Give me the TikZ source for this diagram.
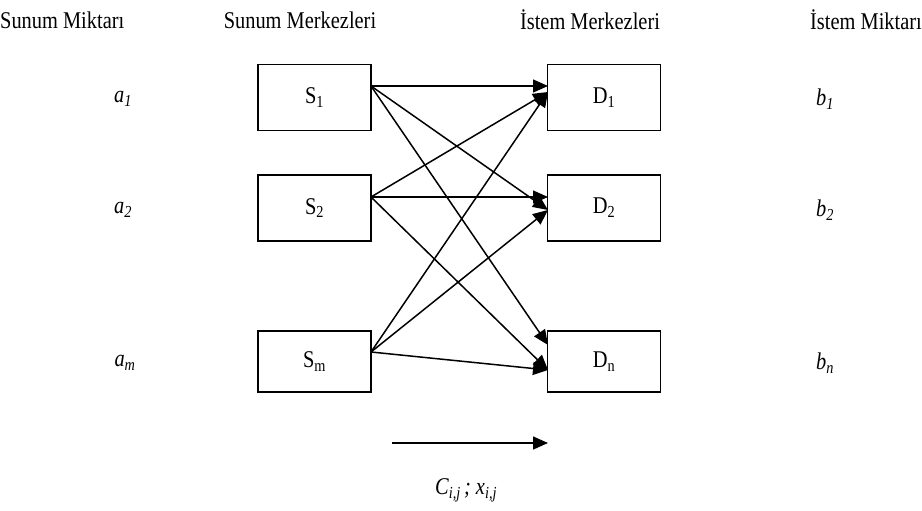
\documentclass[tikz,border=0pt]{standalone}
\usepackage{fontspec}
\usepackage{graphicx}
\setmainfont{Liberation Serif}
\usetikzlibrary{arrows.meta}
\newcommand\cond[1]{\scalebox{0.85}[1]{#1}}
\begin{document}
\begin{tikzpicture}[x=1pt,y=-1pt,
  txt/.style={font=\fontsize{24}{29}\selectfont, inner sep=0pt},
  box/.style={draw, line width=1.7pt, minimum width=113pt, minimum height=66pt, inner sep=0pt, font=\fontsize{24}{29}\selectfont},
  arr/.style={line width=1.5pt, -{Triangle[length=15pt,width=13pt]}}
]
\useasboundingbox (0,0) rectangle (922,511);
% headers
\node[txt, anchor=west] (h1) at (0,20) {\cond{Sunum Miktarı}};
\node[txt] (h2) at (300,20) {\cond{Sunum Merkezleri}};
\node[txt] (h3) at (590,20) {\cond{İstem Merkezleri}};
\node[txt, anchor=east] (h4) at (922,20) {\cond{İstem Miktarı}};
% supply amounts
\node[txt] (a1) at (123,99) {\cond{\textit{a}\textsubscript{\textit{1}}}};
\node[txt] (a2) at (123,210) {\cond{\textit{a}\textsubscript{\textit{2}}}};
\node[txt] (am) at (125,363) {\cond{\textit{a}\textsubscript{\textit{m}}}};
% demand amounts
\node[txt] (b1) at (825,99) {\cond{\textit{b}\textsubscript{\textit{1}}}};
\node[txt] (b2) at (825,210) {\cond{\textit{b}\textsubscript{\textit{2}}}};
\node[txt] (bn) at (825,363) {\cond{\textit{b}\textsubscript{\textit{n}}}};
% boxes
\node[box] (S1) at (314.5,97.5) {\cond{S\textsubscript{1}}};
\node[box] (S2) at (314.5,208) {\cond{S\textsubscript{2}}};
\node[box, minimum height=61pt] (Sm) at (314.5,361.5) {\cond{S\textsubscript{m}}};
\node[box] (D1) at (604,97.5) {\cond{D\textsubscript{1}}};
\node[box] (D2) at (604,208) {\cond{D\textsubscript{2}}};
\node[box, minimum height=61pt] (Dn) at (604,361.5) {\cond{D\textsubscript{n}}};
% connector ends
\coordinate (s1o) at (371,86);
\coordinate (s2o) at (371,197);
\coordinate (smo) at (371,352);
\coordinate (d1a) at (548,86);
\coordinate (d1b) at (548,92);
\coordinate (d2a) at (548,197);
\coordinate (d2b) at (548,210);
\coordinate (dna) at (548,345);
\coordinate (dnb) at (548,370);
% connectors
\draw[arr] (s1o) -- (d1a);
\draw[arr] (s1o) -- (d2b);
\draw[arr] (s1o) -- (dna);
\draw[arr] (s2o) -- (d1b);
\draw[arr] (s2o) -- (d2a);
\draw[arr] (s2o) -- (dnb);
\draw[arr] (smo) -- (d1b);
\draw[arr] (smo) -- (d2b);
\draw[arr] (smo) -- (dnb);
% legend arrow
\coordinate (l1) at (392,443);
\coordinate (l2) at (548,443);
\draw[arr] (l1) -- (l2);
\node[txt] (lab) at (466,490) {\cond{\textit{C}\textsubscript{\textit{i,j}}\,\textit{; x}\textsubscript{\textit{i,j}}}};
\end{tikzpicture}
\end{document}
